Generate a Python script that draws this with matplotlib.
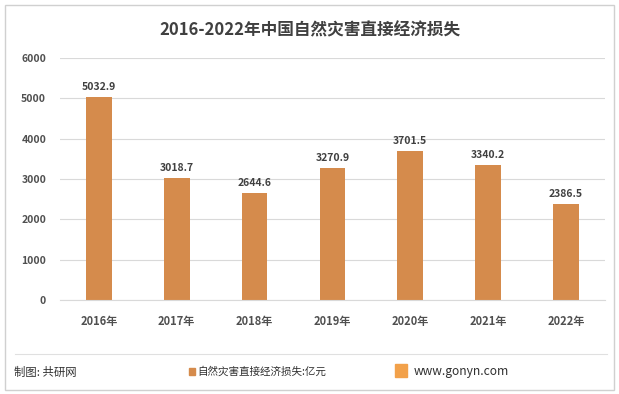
import matplotlib.pyplot as plt
from matplotlib.patches import Rectangle
from matplotlib.lines import Line2D

plt.rcParams['font.family'] = ['Noto Sans CJK SC', 'DejaVu Sans']

years = ['2016年', '2017年', '2018年', '2019年', '2020年', '2021年', '2022年']
losses = [5032.9, 3018.7, 2644.6, 3270.9, 3701.5, 3340.2, 2386.5]
yticks = [0, 1000, 2000, 3000, 4000, 5000, 6000]

bar_color = '#D58B4C'
text_color = '#404040'

fig = plt.figure(figsize=(6.19, 3.94), dpi=100)
ax = fig.add_axes([0.097, 0.239, 0.88, 0.614])

x = range(len(years))
ax.bar(x, losses, width=0.33, color=bar_color, zorder=2)
for xi, v in zip(x, losses):
    ax.text(xi, v + 120, f'{v:.1f}', ha='center', va='bottom', fontsize=7.5,
            fontweight='bold', color=text_color)

ax.set_xlim(-0.5, len(years) - 0.5)
ax.set_ylim(0, 6000)
ax.set_yticks(yticks)
ax.set_yticklabels([str(t) for t in yticks], fontsize=7.5, fontweight='bold',
                   color='#505050')
ax.set_xticks(list(x))
ax.set_xticklabels(years, fontsize=8, fontweight='bold', color='#505050')
ax.grid(axis='y', color='#d9d9d9', linewidth=0.8, zorder=0)
ax.tick_params(axis='y', length=0, pad=10)
ax.tick_params(axis='x', length=0, pad=11)
for s in ['top', 'right', 'left']:
    ax.spines[s].set_visible(False)
ax.spines['bottom'].set_color('#d9d9d9')

fig.text(0.5, 0.922, '2016-2022年中国自然灾害直接经济损失', ha='center', va='center',
         fontsize=12, fontweight='bold', color=text_color)

# frame and footer
fig.patches.append(Rectangle((0.008, 0.01), 0.984, 0.978, transform=fig.transFigure,
                             fill=False, edgecolor='#d0d0d0', linewidth=1))
fig.lines.append(Line2D([0.025, 0.98], [0.102, 0.102], transform=fig.transFigure,
                        color='#e0e0e0', linewidth=0.8))
fig.text(0.023, 0.056, '制图: 共研网', fontsize=8.2, va='center', color='#303030')
fig.patches.append(Rectangle((0.305, 0.047), 0.01, 0.02, transform=fig.transFigure,
                             color=bar_color))
fig.text(0.319, 0.056, '自然灾害直接经济损失:亿元', fontsize=7.6, va='center',
         color='#303030')
fig.patches.append(Rectangle((0.638, 0.042), 0.02, 0.033, transform=fig.transFigure,
                             color='#F2A14A'))
fig.text(0.668, 0.058, 'www.gonyn.com', fontsize=8.7, va='center', color='#303030')

fig.savefig('out.png', dpi=100)
